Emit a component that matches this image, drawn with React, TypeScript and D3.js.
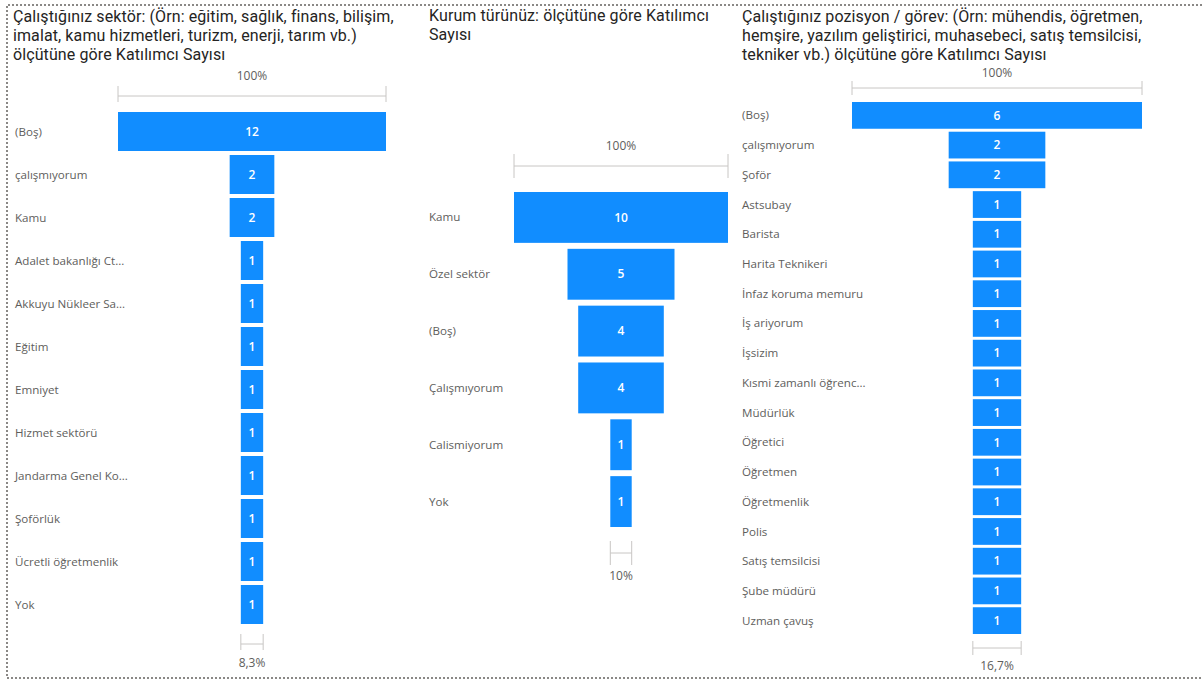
import React from "react";
import * as d3 from "d3";

// ---------- DATA ----------
const sectorTitle = [
  "Çalıştığınız sektör: (Örn: eğitim, sağlık, finans, bilişim,",
  "imalat, kamu hizmetleri, turizm, enerji, tarım vb.)",
  "ölçütüne göre Katılımcı Sayısı",
];
const sectorCategories = [
  "(Boş)",
  "çalışmıyorum",
  "Kamu",
  "Adalet bakanlığı Ct...",
  "Akkuyu Nükleer Sa...",
  "Eğitim",
  "Emniyet",
  "Hizmet sektörü",
  "Jandarma Genel Ko...",
  "Şoförlük",
  "Ücretli öğretmenlik",
  "Yok",
];
const sectorValues = [12, 2, 2, 1, 1, 1, 1, 1, 1, 1, 1, 1];

const kurumTitle = ["Kurum türünüz: ölçütüne göre Katılımcı", "Sayısı"];
const kurumCategories = ["Kamu", "Özel sektör", "(Boş)", "Çalışmıyorum", "Calismiyorum", "Yok"];
const kurumValues = [10, 5, 4, 4, 1, 1];

const pozisyonTitle = [
  "Çalıştığınız pozisyon / görev: (Örn: mühendis, öğretmen,",
  "hemşire, yazılım geliştirici, muhasebeci, satış temsilcisi,",
  "tekniker vb.) ölçütüne göre Katılımcı Sayısı",
];
const pozisyonCategories = [
  "(Boş)",
  "çalışmıyorum",
  "Şoför",
  "Astsubay",
  "Barista",
  "Harita Teknikeri",
  "İnfaz koruma memuru",
  "İş ariyorum",
  "İşsizim",
  "Kısmi zamanlı öğrenc...",
  "Müdürlük",
  "Öğretici",
  "Öğretmen",
  "Öğretmenlik",
  "Polis",
  "Satış temsilcisi",
  "Şube müdürü",
  "Uzman çavuş",
];
const pozisyonValues = [6, 2, 2, 1, 1, 1, 1, 1, 1, 1, 1, 1, 1, 1, 1, 1, 1, 1];

// ---------- STYLE ----------
const BLUE = "#118DFF";
const TITLE_COLOR = "#252423";
const LABEL_COLOR = "#605E5C";
const BRACKET_COLOR = "#C8C6C4";
const TITLE_FONT = "Roboto, 'DejaVu Sans', sans-serif";
const LABEL_FONT = "'Open Sans', 'Noto Sans', sans-serif";

type Layout = {
  titleX: number;
  titleY: number;
  labelX: number;
  cx: number;
  fullWidth: number;
  bandTop: number;
  bandBottom: number;
  padding: number;
  topLineY: number;
  topLabelY: number;
  bottomLineY: number;
  bottomLabelY: number;
  tickUp: number;
  tickDown: number;
};

function pct(v: number): string {
  const r = Math.round(v * 1000) / 10;
  const s = Number.isInteger(r) ? String(r) : r.toFixed(1).replace(".", ",");
  return s + "%";
}

function Bracket({ x0, x1, y, up, down }: { x0: number; x1: number; y: number; up: number; down: number }) {
  return (
    <g stroke={BRACKET_COLOR} strokeWidth={1} fill="none">
      <line x1={x0} x2={x1} y1={y} y2={y} />
      <line x1={x0} x2={x0} y1={y - up} y2={y + down} />
      <line x1={x1} x2={x1} y1={y - up} y2={y + down} />
    </g>
  );
}

function Funnel({
  title,
  categories,
  values,
  L,
}: {
  title: string[];
  categories: string[];
  values: number[];
  L: Layout;
}) {
  const max = d3.max(values) as number;
  const min = d3.min(values) as number;
  const w = d3.scaleLinear().domain([0, max]).range([0, L.fullWidth]);
  const y = d3
    .scaleBand<string>()
    .domain(categories)
    .range([L.bandTop, L.bandBottom])
    .paddingInner(L.padding)
    .paddingOuter(0);
  const bw = y.bandwidth();
  const minW = w(min);
  return (
    <g>
      {title.map((t, i) => (
        <text
          key={i}
          x={L.titleX}
          y={L.titleY + i * 19}
          fontFamily={TITLE_FONT}
          fontSize={16}
          letterSpacing={0.1}
          fill={TITLE_COLOR}
        >
          {t}
        </text>
      ))}
      <text
        x={L.cx}
        y={L.topLabelY}
        textAnchor="middle"
        fontFamily={LABEL_FONT}
        fontSize={12}
        fill={LABEL_COLOR}
      >
        {pct(1)}
      </text>
      <Bracket x0={L.cx - L.fullWidth / 2} x1={L.cx + L.fullWidth / 2} y={L.topLineY} up={L.tickUp} down={L.tickDown} />
      {categories.map((c, i) => {
        const bwid = w(values[i]);
        const yy = y(c) as number;
        return (
          <g key={c}>
            <text
              x={L.labelX}
              y={yy + bw / 2}
              dy="0.35em"
              fontFamily={LABEL_FONT}
              fontSize={11.6}
              fill={LABEL_COLOR}
            >
              {c}
            </text>
            <rect x={L.cx - bwid / 2} y={yy} width={bwid} height={bw} fill={BLUE} />
            <text
              x={L.cx}
              y={yy + bw / 2}
              dy="0.35em"
              textAnchor="middle"
              fontFamily={LABEL_FONT}
              fontSize={12}
              fontWeight={600}
              fill="#FFFFFF"
            >
              {values[i]}
            </text>
          </g>
        );
      })}
      <Bracket x0={L.cx - minW / 2} x1={L.cx + minW / 2} y={L.bottomLineY} up={L.tickUp} down={L.tickDown} />
      <text
        x={L.cx}
        y={L.bottomLabelY}
        textAnchor="middle"
        fontFamily={LABEL_FONT}
        fontSize={12}
        fill={LABEL_COLOR}
      >
        {pct(min / max)}
      </text>
    </g>
  );
}

const L1: Layout = {
  titleX: 13,
  titleY: 22,
  labelX: 15,
  cx: 252,
  fullWidth: 268,
  bandTop: 112,
  bandBottom: 624,
  padding: 0.093,
  topLineY: 96,
  topLabelY: 80,
  bottomLineY: 644,
  bottomLabelY: 667,
  tickUp: 10,
  tickDown: 6,
};
const L2: Layout = {
  titleX: 429,
  titleY: 21,
  labelX: 429,
  cx: 621,
  fullWidth: 214,
  bandTop: 192,
  bandBottom: 527,
  padding: 0.105,
  topLineY: 166,
  topLabelY: 150,
  bottomLineY: 553,
  bottomLabelY: 580,
  tickUp: 12,
  tickDown: 12,
};
const L3: Layout = {
  titleX: 742,
  titleY: 22,
  labelX: 742,
  cx: 997,
  fullWidth: 290,
  bandTop: 102,
  bandBottom: 634,
  padding: 0.1,
  topLineY: 88,
  topLabelY: 77,
  bottomLineY: 648,
  bottomLabelY: 670,
  tickUp: 7,
  tickDown: 7,
};

export default function App() {
  return (
    <svg
      width={1202}
      height={679}
      style={{ position: "absolute", left: 0, top: 0, background: "#fff" }}
    >
      <rect x={0} y={0} width={1202} height={679} fill="#fff" />
      <path
        d="M1202,5 H7 V678 H1202"
        fill="none"
        stroke="#8a8886"
        strokeWidth={2}
        strokeDasharray="2 2"
      />
      <Funnel title={sectorTitle} categories={sectorCategories} values={sectorValues} L={L1} />
      <Funnel title={kurumTitle} categories={kurumCategories} values={kurumValues} L={L2} />
      <Funnel title={pozisyonTitle} categories={pozisyonCategories} values={pozisyonValues} L={L3} />
    </svg>
  );
}
